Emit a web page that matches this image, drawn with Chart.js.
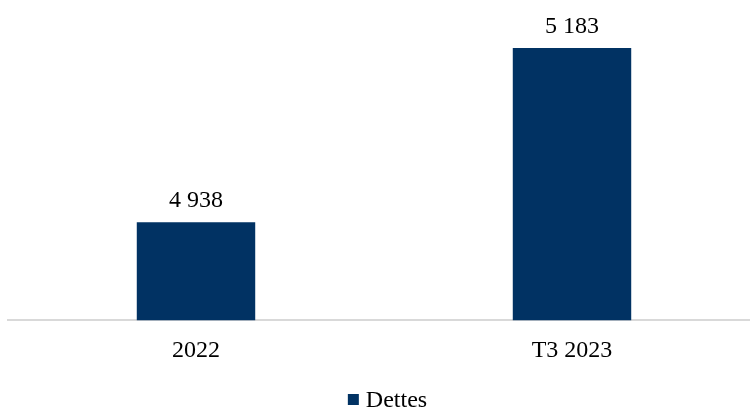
<!DOCTYPE html>
<html>
<head>
<meta charset="utf-8">
<script src="https://cdn.jsdelivr.net/npm/chart.js@4.4.0/dist/chart.umd.min.js"></script>
<style>
  html, body { margin: 0; padding: 0; background: #fff; overflow: hidden; }
  #zone { position: relative; width: 760px; height: 412px; }
</style>
</head>
<body>
<div id="zone"><canvas id="dettes"></canvas></div>
<script>
const categories = ['2022', 'T3 2023'];
const dettes = [4938, 5183];
const libelles = ['4 938', '5 183'];
const serie = 'Dettes';
const couleur = '#013263';
const police = "'Liberation Serif', 'Times New Roman', serif";

// étiquettes au-dessus des barres
const etiquettes = {
  id: 'etiquettes',
  afterDatasetsDraw(chart) {
    const ctx = chart.ctx;
    const meta = chart.getDatasetMeta(0);
    ctx.save();
    ctx.font = '24px ' + police;
    ctx.fillStyle = '#000';
    ctx.textAlign = 'center';
    ctx.textBaseline = 'alphabetic';
    meta.data.forEach((barre, i) => {
      ctx.fillText(libelles[i], barre.x, barre.y - 15);
    });
    ctx.restore();
  }
};

// légende serrée, carré près du texte
const legende = {
  id: 'legende',
  afterDraw(chart) {
    const ctx = chart.ctx;
    ctx.save();
    ctx.font = '24px ' + police;
    const largeurTexte = ctx.measureText(serie).width;
    const total = 11 + 7 + largeurTexte;
    const x0 = 387.5 - total / 2;
    const base = 406.5;
    ctx.fillStyle = couleur;
    ctx.fillRect(x0, base - 12.5, 11, 11);
    ctx.fillStyle = '#000';
    ctx.textAlign = 'left';
    ctx.textBaseline = 'alphabetic';
    ctx.fillText(serie, x0 + 18, base);
    ctx.restore();
  }
};

const ctx = document.getElementById('dettes');

new Chart(ctx, {
  type: 'bar',
  data: {
    labels: categories,
    datasets: [{
      label: serie,
      data: dettes,
      backgroundColor: couleur,
      barPercentage: 0.315,
      categoryPercentage: 1
    }]
  },
  options: {
    responsive: true,
    maintainAspectRatio: false,
    animation: false,
    layout: {
      padding: { left: 8, top: 36, right: 0, bottom: 39 }
    },
    plugins: {
      legend: { display: false },
      tooltip: { enabled: false }
    },
    scales: {
      x: {
        grid: { display: false },
        border: { color: '#d9d9d9', width: 2 },
        ticks: {
          color: '#000',
          padding: 8,
          font: { size: 24, family: police }
        }
      },
      y: {
        display: false,
        min: 4800,
        max: 5200
      }
    }
  },
  plugins: [etiquettes, legende]
});
</script>
</body>
</html>
